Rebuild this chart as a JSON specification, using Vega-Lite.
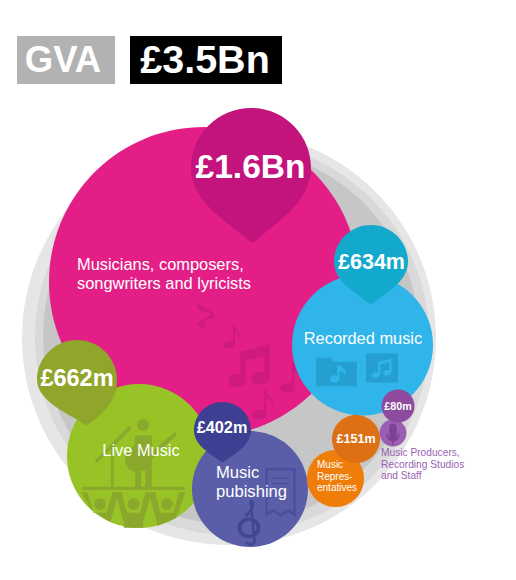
{"$schema":"https://vega.github.io/schema/vega-lite/v6.json","width":516,"height":580,"autosize":{"type":"fit","contains":"padding"},"padding":0,"background":"white","config":{"view":{"stroke":null},"text":{"font":"Liberation Sans"}},
"layer":[
{"data":{"values":[{"name":"GVA","x":17,"x2":115,"y":36,"y2":84},{"name":"total","x":130,"x2":282,"y":36,"y2":84}]},"mark":{"type":"rect"},"encoding":{"x":{"field":"x","type":"quantitative","scale":{"domain":[0,516],"nice":false,"zero":false},"axis":null},"x2":{"field":"x2"},"y":{"field":"y","type":"quantitative","scale":{"domain":[580,0],"nice":false,"zero":false},"axis":null},"y2":{"field":"y2"},"color":{"field":"name","type":"nominal","legend":null,"scale":{"domain":["GVA","total"],"range":["#b2b2b2","#000000"]}}}},
{"data":{"values":[
{"name":"outer","x":229,"y":338,"d":414},
{"name":"mid","x":232,"y":338,"d":394},
{"name":"inner","x":231,"y":336,"d":376},
{"name":"Musicians","x":204,"y":282,"d":310},
{"name":"note1","x":205,"y":317,"d":28},
{"name":"note2","x":233,"y":337,"d":24},
{"name":"note3","x":249,"y":365,"d":44},
{"name":"note4","x":264,"y":405,"d":30},
{"name":"note5","x":292,"y":378,"d":30},
{"name":"MusiciansGVA","x":251,"y":168,"d":120},
{"name":"Live","x":139,"y":456,"d":144},
{"name":"stage","x":133.5,"y":476,"d":108},
{"name":"LiveGVA","x":77,"y":380,"d":80},
{"name":"Publishing","x":250,"y":489,"d":116},
{"name":"clef","x":249,"y":522,"d":46},
{"name":"receipt","x":280.5,"y":492.5,"d":49},
{"name":"PublishingGVA","x":222.5,"y":430.5,"d":57},
{"name":"Recorded","x":362.5,"y":345,"d":141},
{"name":"folder","x":336.5,"y":372,"d":41},
{"name":"album","x":382,"y":368,"d":32},
{"name":"RecordedGVA","x":371,"y":262,"d":74},
{"name":"Reps","x":335.5,"y":478.5,"d":57},
{"name":"RepsGVA","x":356,"y":439,"d":48},
{"name":"Producers","x":393,"y":433,"d":27},
{"name":"mic","x":393,"y":433,"d":24},
{"name":"ProducersGVA","x":398,"y":406,"d":33}
]},"mark":{"type":"point","filled":true,"opacity":1,"strokeWidth":0},"encoding":{
"x":{"field":"x","type":"quantitative","scale":{"domain":[0,516],"nice":false,"zero":false},"axis":null},
"y":{"field":"y","type":"quantitative","scale":{"domain":[580,0],"nice":false,"zero":false},"axis":null},
"size":{"field":"d","type":"quantitative","legend":null,"scale":{"type":"pow","exponent":2,"domain":[0,100],"range":[0,10000]}},
"color":{"field":"name","type":"nominal","legend":null,"scale":{
"domain":["outer","mid","inner","Musicians","note1","note2","note3","note4","note5","MusiciansGVA","Live","stage","LiveGVA","Publishing","clef","receipt","PublishingGVA","Recorded","folder","album","RecordedGVA","Reps","RepsGVA","Producers","mic","ProducersGVA"],
"range":["#e6e6e6","#d9d9d9","#c6c6c6","#e31f87","#cf1b80","#cf1b80","#cf1b80","#cf1b80","#cf1b80","#c3147d","#97c327","#8aa82b","#8fa62a","#5a5ea9","#3f4692","#4a4f9f","#3d3f92","#2fb5e9","#259fd0","#259fd0","#12a9cc","#ef7d0a","#dd6f14","#9a5fb0","#7f3f96","#8e4a9e"]}},
"shape":{"field":"name","type":"nominal","legend":null,"scale":{
"domain":["outer","mid","inner","Musicians","note1","note2","note3","note4","note5","MusiciansGVA","Live","stage","LiveGVA","Publishing","clef","receipt","PublishingGVA","Recorded","folder","album","RecordedGVA","Reps","RepsGVA","Producers","mic","ProducersGVA"],
"range":[
"M-1,0A1,1,0,1,1,1,0A1,1,0,1,1,-1,0Z",
"M-1,0A1,1,0,1,1,1,0A1,1,0,1,1,-1,0Z",
"M-1,0A1,1,0,1,1,1,0A1,1,0,1,1,-1,0Z",
"M-1,0A1,1,0,1,1,1,0A1,1,0,1,1,-1,0Z",
"M-0.3,0.75C-0.55,0.7,-0.6,0.4,-0.35,0.3L0.3,-0.1C0.5,-0.3,0.1,-0.5,-0.2,-0.3L-0.6,-0.7L-0.45,-0.95L0.6,-0.3C0.8,0,0.5,0.2,0.2,0.15L0,0.35C0.1,0.7,-0.1,0.85,-0.3,0.75Z",
"M-0.8,0.7C-0.8,0.4,-0.3,0.25,0,0.35L0,-1L0.15,-1C0.2,-0.5,0.8,-0.4,0.6,0.2C0.6,-0.2,0.3,-0.4,0.15,-0.45L0.15,0.7C0.15,1,-0.8,1.1,-0.8,0.7Z",
"M-0.95,0.75C-0.95,0.45,-0.55,0.35,-0.4,0.42L-0.4,-0.6L0.95,-0.95L0.95,0.55C0.95,0.95,0.1,1,0.1,0.65C0.1,0.35,0.55,0.25,0.7,0.32L0.7,-0.4L-0.15,-0.2L-0.15,0.75C-0.15,1.1,-0.95,1.1,-0.95,0.75Z",
"M-0.8,0.7C-0.8,0.4,-0.3,0.25,0,0.35L0,-1L0.15,-1C0.2,-0.5,0.8,-0.4,0.6,0.2C0.6,-0.2,0.3,-0.4,0.15,-0.45L0.15,0.7C0.15,1,-0.8,1.1,-0.8,0.7Z",
"M-0.8,0.7C-0.8,0.4,-0.3,0.25,0,0.35L0,-1L0.15,-1C0.2,-0.5,0.8,-0.4,0.6,0.2C0.6,-0.2,0.3,-0.4,0.15,-0.45L0.15,0.7C0.15,1,-0.8,1.1,-0.8,0.7Z",
"M-1,0A1,1,0,1,1,1,0C1,0.6,0.35,0.95,0.1,1.2Q0.03,1.27,-0.05,1.2C-0.3,0.95,-1,0.6,-1,0Z",
"M-1,0A1,1,0,1,1,1,0A1,1,0,1,1,-1,0Z",
"M-0.95,0.2H0.95V0.26H-0.95ZM0.066,-0.944A0.11,0.11,0,1,1,0.286,-0.944A0.11,0.11,0,1,1,0.066,-0.944ZM0.03,-0.75H0.34V-0.45L0.77,-0.82L0.8,-0.76L0.34,-0.32V0.2H0.22V-0.1H0.14V0.2H0.03V-0.08C-0.15,-0.1,-0.22,-0.35,-0.1,-0.45C-0.02,-0.5,0,-0.55,0.03,-0.6ZM-0.42,-0.55H-0.37V0.2H-0.42ZM-0.72,-0.28L-0.08,-0.93L-0.03,-0.88L-0.68,-0.24ZM-0.97,0.3H-0.85L-0.74,0.68H-0.5L-0.39,0.3H-0.27L-0.43,0.85L-0.77,0.64ZM-0.34,0.3H-0.22L-0.12,0.68H0.12L0.22,0.3H0.34L0.18,0.85V0.96H-0.18V0.85ZM0.28,0.3H0.4L0.5,0.68H0.74L0.84,0.3H0.96L0.79,0.78L0.45,0.92ZM-0.73,0.52A0.11,0.11,0,1,1,-0.51,0.52A0.11,0.11,0,1,1,-0.73,0.52ZM-0.11,0.52A0.11,0.11,0,1,1,0.11,0.52A0.11,0.11,0,1,1,-0.11,0.52ZM0.51,0.52A0.11,0.11,0,1,1,0.73,0.52A0.11,0.11,0,1,1,0.51,0.52Z",
"M-1,0A1,1,0,1,1,1,0C1,0.5,0.7,0.8,0.3,1.1Q0.25,1.15,0.18,1.1C-0.1,0.9,-1,0.55,-1,0Z",
"M-1,0A1,1,0,1,1,1,0A1,1,0,1,1,-1,0Z",
"M-0.5,0.25A0.5,0.45,0,1,1,0.5,0.25A0.5,0.45,0,1,1,-0.5,0.25ZM-0.32,0.25A0.32,0.3,0,1,0,0.32,0.25A0.32,0.3,0,1,0,-0.32,0.25ZM0.02,-0.95L0.12,-0.95L0.3,0.85C0.3,1.05,-0.05,1.1,-0.15,0.9L-0.05,0.85C0,0.95,0.18,0.95,0.18,0.82ZM0.02,-0.95C0.35,-1,0.3,-0.55,-0.12,-0.2L-0.2,-0.3C0.1,-0.55,0.2,-0.8,0.05,-0.85Z",
"M-0.62,-1H0.62V1L0.31,0.8L0,1L-0.31,0.8L-0.62,1ZM-0.52,-0.9V0.8L-0.31,0.66L0,0.86L0.31,0.66L0.52,0.8V-0.9ZM-0.35,-0.62H0.35V-0.56H-0.35ZM-0.35,-0.4H0.35V-0.34H-0.35Z",
"M-1,0A1,1,0,1,1,1,0C1,0.55,0.35,0.85,0.07,1.08Q0,1.14,-0.07,1.08C-0.35,0.85,-1,0.55,-1,0Z",
"M-1,0A1,1,0,1,1,1,0A1,1,0,1,1,-1,0Z",
"M-1,-0.7H-0.3L-0.15,-0.5H1V0.7H-1ZM0.05,-0.35L0.05,0.2C-0.1,0.1,-0.35,0.2,-0.3,0.4C-0.25,0.6,0.15,0.55,0.15,0.3L0.15,-0.05C0.3,-0.05,0.4,0.05,0.45,0.2C0.5,-0.1,0.3,-0.25,0.05,-0.35Z",
"M-1,-0.9H1V0.9H-1ZM-0.25,-0.4V0.3C-0.45,0.2,-0.7,0.35,-0.6,0.55C-0.5,0.7,-0.1,0.6,-0.1,0.35V-0.2L0.45,-0.35V0.15C0.25,0.05,0,0.2,0.1,0.4C0.2,0.55,0.6,0.45,0.6,0.2V-0.6Z",
"M-1,0A1,1,0,1,1,1,0C1,0.55,0.35,0.85,0.07,1.1Q0,1.16,-0.07,1.1C-0.35,0.85,-1,0.55,-1,0Z",
"M-1,0A1,1,0,1,1,1,0A1,1,0,1,1,-1,0Z",
"M-1,0A1,1,0,1,1,1,0A1,1,0,1,1,-1,0Z",
"M-1,0A1,1,0,1,1,1,0A1,1,0,1,1,-1,0Z",
"M-0.3,-0.5A0.3,0.3,0,0,1,0.3,-0.5V0.2A0.3,0.3,0,0,1,-0.3,0.2ZM-0.55,0H-0.45C-0.45,0.6,0.45,0.6,0.45,0H0.55C0.55,0.7,0.05,0.7,0.05,0.7V1H-0.05V0.7C-0.05,0.7,-0.55,0.7,-0.55,0Z",
"M-1,0A1,1,0,1,1,1,0A1,1,0,1,1,-1,0Z"
]}}
}},
{"data":{"values":[{"t":"GVA","x":63,"y":61}]},"mark":{"type":"text","fontSize":36.5,"fontWeight":"bold","color":"white","align":"center","baseline":"middle"},"encoding":{"x":{"field":"x","type":"quantitative","scale":{"domain":[0,516],"nice":false,"zero":false},"axis":null},"y":{"field":"y","type":"quantitative","scale":{"domain":[580,0],"nice":false,"zero":false},"axis":null},"text":{"field":"t"}}},
{"data":{"values":[{"t":"£3.5Bn","x":205,"y":61}]},"mark":{"type":"text","fontSize":39.5,"fontWeight":"bold","color":"white","align":"center","baseline":"middle"},"encoding":{"x":{"field":"x","type":"quantitative","scale":{"domain":[0,516],"nice":false,"zero":false},"axis":null},"y":{"field":"y","type":"quantitative","scale":{"domain":[580,0],"nice":false,"zero":false},"axis":null},"text":{"field":"t"}}},
{"data":{"values":[{"t":"£1.6Bn","x":250.5,"y":168}]},"mark":{"type":"text","fontSize":33.5,"fontWeight":"bold","color":"white","align":"center","baseline":"middle"},"encoding":{"x":{"field":"x","type":"quantitative","scale":{"domain":[0,516],"nice":false,"zero":false},"axis":null},"y":{"field":"y","type":"quantitative","scale":{"domain":[580,0],"nice":false,"zero":false},"axis":null},"text":{"field":"t"}}},
{"data":{"values":[{"t":"£634m","x":371.5,"y":263}]},"mark":{"type":"text","fontSize":21.5,"fontWeight":"bold","color":"white","align":"center","baseline":"middle"},"encoding":{"x":{"field":"x","type":"quantitative","scale":{"domain":[0,516],"nice":false,"zero":false},"axis":null},"y":{"field":"y","type":"quantitative","scale":{"domain":[580,0],"nice":false,"zero":false},"axis":null},"text":{"field":"t"}}},
{"data":{"values":[{"t":"£662m","x":77,"y":379}]},"mark":{"type":"text","fontSize":23.5,"fontWeight":"bold","color":"white","align":"center","baseline":"middle"},"encoding":{"x":{"field":"x","type":"quantitative","scale":{"domain":[0,516],"nice":false,"zero":false},"axis":null},"y":{"field":"y","type":"quantitative","scale":{"domain":[580,0],"nice":false,"zero":false},"axis":null},"text":{"field":"t"}}},
{"data":{"values":[{"t":"£402m","x":222,"y":428}]},"mark":{"type":"text","fontSize":16.3,"fontWeight":"bold","color":"white","align":"center","baseline":"middle"},"encoding":{"x":{"field":"x","type":"quantitative","scale":{"domain":[0,516],"nice":false,"zero":false},"axis":null},"y":{"field":"y","type":"quantitative","scale":{"domain":[580,0],"nice":false,"zero":false},"axis":null},"text":{"field":"t"}}},
{"data":{"values":[{"t":"£151m","x":356,"y":439}]},"mark":{"type":"text","fontSize":12.6,"fontWeight":"bold","color":"white","align":"center","baseline":"middle"},"encoding":{"x":{"field":"x","type":"quantitative","scale":{"domain":[0,516],"nice":false,"zero":false},"axis":null},"y":{"field":"y","type":"quantitative","scale":{"domain":[580,0],"nice":false,"zero":false},"axis":null},"text":{"field":"t"}}},
{"data":{"values":[{"t":"£80m","x":398,"y":407}]},"mark":{"type":"text","fontSize":10.7,"fontWeight":"bold","color":"white","align":"center","baseline":"middle"},"encoding":{"x":{"field":"x","type":"quantitative","scale":{"domain":[0,516],"nice":false,"zero":false},"axis":null},"y":{"field":"y","type":"quantitative","scale":{"domain":[580,0],"nice":false,"zero":false},"axis":null},"text":{"field":"t"}}},
{"data":{"values":[{"t":"Musicians, composers,","x":77,"y":265},{"t":"songwriters and lyricists","x":77,"y":284}]},"mark":{"type":"text","fontSize":16.4,"color":"white","align":"left","baseline":"middle"},"encoding":{"x":{"field":"x","type":"quantitative","scale":{"domain":[0,516],"nice":false,"zero":false},"axis":null},"y":{"field":"y","type":"quantitative","scale":{"domain":[580,0],"nice":false,"zero":false},"axis":null},"text":{"field":"t"}}},
{"data":{"values":[{"t":"Recorded music","x":363,"y":339},{"t":"Live Music","x":141,"y":451}]},"mark":{"type":"text","fontSize":16.4,"color":"white","align":"center","baseline":"middle"},"encoding":{"x":{"field":"x","type":"quantitative","scale":{"domain":[0,516],"nice":false,"zero":false},"axis":null},"y":{"field":"y","type":"quantitative","scale":{"domain":[580,0],"nice":false,"zero":false},"axis":null},"text":{"field":"t"}}},
{"data":{"values":[{"t":"Music","x":216,"y":473},{"t":"pubishing","x":216,"y":492}]},"mark":{"type":"text","fontSize":16.6,"color":"white","align":"left","baseline":"middle"},"encoding":{"x":{"field":"x","type":"quantitative","scale":{"domain":[0,516],"nice":false,"zero":false},"axis":null},"y":{"field":"y","type":"quantitative","scale":{"domain":[580,0],"nice":false,"zero":false},"axis":null},"text":{"field":"t"}}},
{"data":{"values":[{"t":"Music","x":317,"y":465},{"t":"Repres-","x":317,"y":477},{"t":"entatives","x":317,"y":488}]},"mark":{"type":"text","fontSize":10,"color":"white","align":"left","baseline":"middle"},"encoding":{"x":{"field":"x","type":"quantitative","scale":{"domain":[0,516],"nice":false,"zero":false},"axis":null},"y":{"field":"y","type":"quantitative","scale":{"domain":[580,0],"nice":false,"zero":false},"axis":null},"text":{"field":"t"}}},
{"data":{"values":[{"t":"Music Producers,","x":381,"y":453},{"t":"Recording Studios","x":381,"y":465},{"t":"and Staff","x":381,"y":476}]},"mark":{"type":"text","fontSize":10.2,"color":"#9a5fb0","align":"left","baseline":"middle"},"encoding":{"x":{"field":"x","type":"quantitative","scale":{"domain":[0,516],"nice":false,"zero":false},"axis":null},"y":{"field":"y","type":"quantitative","scale":{"domain":[580,0],"nice":false,"zero":false},"axis":null},"text":{"field":"t"}}}
],"resolve":{"scale":{"color":"independent"}}}
